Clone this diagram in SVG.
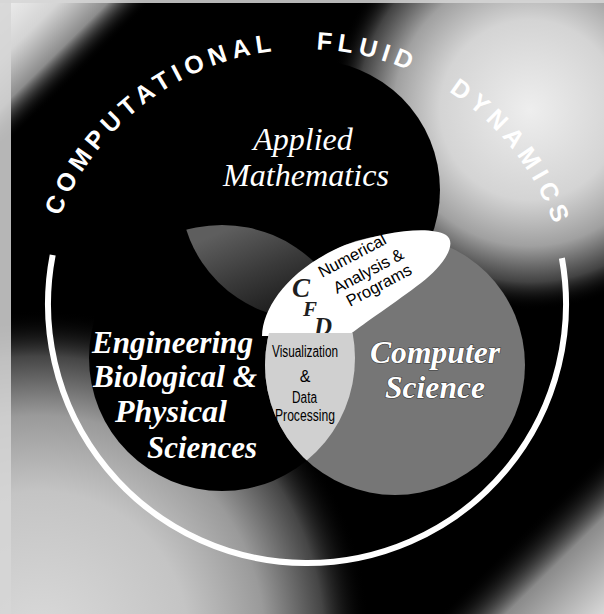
<svg xmlns="http://www.w3.org/2000/svg" width="604" height="614" viewBox="0 0 604 614">
<style>
.serif { font-family: "Liberation Serif", "Times New Roman", serif; fill: #ffffff; }
.bi { font-weight: bold; font-style: italic; font-size: 31px; }
.it { font-style: italic; font-size: 32px; }
.sans { font-family: "Liberation Sans", Arial, sans-serif; fill: #000000; }
.num { font-size: 16.5px; }
.vis { font-size: 16px; }
.arcText { font-family: "Liberation Sans", Arial, sans-serif; font-weight: bold; font-size: 25px; fill: #ffffff; letter-spacing: 5.5px; word-spacing: 27px; }
.cfd { font-family: "Liberation Serif", "Times New Roman", serif; font-weight: bold; font-style: italic; fill: #1e1e1e; }
.cs { stroke: #3a3a3a; stroke-width: 1.2px; paint-order: stroke; }
</style>
<defs>
  <linearGradient id="gCorner" gradientUnits="userSpaceOnUse" x1="0" y1="0" x2="604" y2="614">
    <stop offset="0" stop-color="#f0f0f0"/>
    <stop offset="0.05" stop-color="#d4d4d4"/>
    <stop offset="0.09" stop-color="#8c8c8c"/>
    <stop offset="0.125" stop-color="#000000" stop-opacity="0"/>
    <stop offset="0.865" stop-color="#000000" stop-opacity="0"/>
    <stop offset="0.92" stop-color="#8a8a8a"/>
    <stop offset="1" stop-color="#d8d8d8"/>
  </linearGradient>
  <radialGradient id="gTR" gradientUnits="userSpaceOnUse" cx="530" cy="110" r="200">
    <stop offset="0" stop-color="#eeeeee"/>
    <stop offset="0.45" stop-color="#d4d4d4"/>
    <stop offset="0.68" stop-color="#a0a0a0"/>
    <stop offset="0.86" stop-color="#4a4a4a" stop-opacity="0.9"/>
    <stop offset="1" stop-color="#000000" stop-opacity="0"/>
  </radialGradient>
  <radialGradient id="gBL" gradientUnits="userSpaceOnUse" cx="40" cy="640" r="330">
    <stop offset="0" stop-color="#dadada"/>
    <stop offset="0.45" stop-color="#c4c4c4"/>
    <stop offset="0.68" stop-color="#9a9a9a"/>
    <stop offset="0.86" stop-color="#454545"/>
    <stop offset="1" stop-color="#000000" stop-opacity="0"/>
  </radialGradient>
  <linearGradient id="gGhost" gradientUnits="userSpaceOnUse" x1="230" y1="228" x2="270" y2="320">
    <stop offset="0" stop-color="#5e5e5e"/>
    <stop offset="0.5" stop-color="#3a3a3a"/>
    <stop offset="1" stop-color="#1a1a1a"/>
  </linearGradient>
  <clipPath id="clipApplied"><circle cx="310" cy="190" r="130"/></clipPath>
  <clipPath id="clipEng"><circle cx="222" cy="358" r="133"/></clipPath>
  <clipPath id="clipLow"><rect x="0" y="333" width="604" height="281"/></clipPath>
  <path id="textArc" d="M 41.4 313.2 A 264 264 0 0 1 569.4 313.2"/>
</defs>

<g id="background">
  <rect x="0" y="0" width="604" height="614" fill="#000000"/>
  <rect x="0" y="0" width="604" height="614" fill="url(#gCorner)"/>
  <rect x="0" y="0" width="604" height="614" fill="url(#gTR)"/>
  <rect x="0" y="0" width="604" height="614" fill="url(#gBL)"/>
  <rect x="0" y="0" width="11" height="614" fill="#d6d6d6" opacity="0.85"/>
  <rect x="0" y="0" width="604" height="3" fill="#d6d6d6" opacity="0.85"/>
</g>

<g id="ring">
  <path d="M 561.9 258.1 A 259 259 0 1 1 52.7 255.0" fill="none" stroke="#ffffff" stroke-width="6"/>
  <text class="arcText"><textPath href="#textArc" startOffset="99">COMPUTATIONAL FLUID DYNAMICS</textPath></text>
</g>

<g id="node-applied-mathematics">
  <circle cx="310" cy="190" r="130" fill="#000000"/>
  <text class="serif it" x="303" y="150" text-anchor="middle">Applied</text>
  <text class="serif it" x="306" y="186" text-anchor="middle" textLength="166" lengthAdjust="spacingAndGlyphs">Mathematics</text>
</g>

<g id="node-engineering">
  <circle cx="222" cy="358" r="133" fill="#000000"/>
  <circle cx="222" cy="358" r="133" fill="url(#gGhost)" clip-path="url(#clipApplied)"/>
  <text class="serif bi" x="92" y="353" textLength="161" lengthAdjust="spacingAndGlyphs">Engineering</text>
  <text class="serif bi" x="93" y="387" textLength="164" lengthAdjust="spacingAndGlyphs">Biological &amp;</text>
  <text class="serif bi" x="115" y="422" textLength="112" lengthAdjust="spacingAndGlyphs">Physical</text>
  <text class="serif bi" x="147" y="458" textLength="110" lengthAdjust="spacingAndGlyphs">Sciences</text>
</g>

<g id="node-computer-science">
  <circle cx="395" cy="365" r="130" fill="#767676"/>
  <text class="serif bi cs" x="435" y="363" text-anchor="middle" textLength="130" lengthAdjust="spacingAndGlyphs">Computer</text>
  <text class="serif bi cs" x="435" y="398" text-anchor="middle" textLength="100" lengthAdjust="spacingAndGlyphs">Science</text>
</g>

<g id="node-numerical-analysis">
  <path d="M 262 336 C 263 306, 290 268, 345 245 C 385 232, 428 225, 446 235 C 459 244, 441 268, 421 283 C 396 302, 366 322, 348 336 Z" fill="#ffffff"/>
  <text class="sans num" transform="translate(322,278) rotate(-28)">Numerical</text>
  <text class="sans num" transform="translate(337,294) rotate(-28)">Analysis &amp;</text>
  <text class="sans num" transform="translate(350,307) rotate(-28)">Programs</text>
</g>

<g id="node-cfd">
  <text class="cfd" x="292" y="297" font-size="27">C</text>
  <text class="cfd" x="303" y="316" font-size="21">F</text>
  <text class="cfd" x="314" y="335" font-size="25">D</text>
</g>

<g id="node-visualization">
  <g clip-path="url(#clipLow)">
    <circle cx="395" cy="365" r="130" fill="#d0d0d0" clip-path="url(#clipEng)"/>
  </g>
  <text class="sans vis" x="305" y="357" text-anchor="middle" textLength="66" lengthAdjust="spacingAndGlyphs">Visualization</text>
  <text class="sans vis" x="305" y="382" text-anchor="middle">&amp;</text>
  <text class="sans vis" x="304.5" y="403" text-anchor="middle" textLength="25" lengthAdjust="spacingAndGlyphs">Data</text>
  <text class="sans vis" x="305" y="421" text-anchor="middle" textLength="60" lengthAdjust="spacingAndGlyphs">Processing</text>
</g>
</svg>
